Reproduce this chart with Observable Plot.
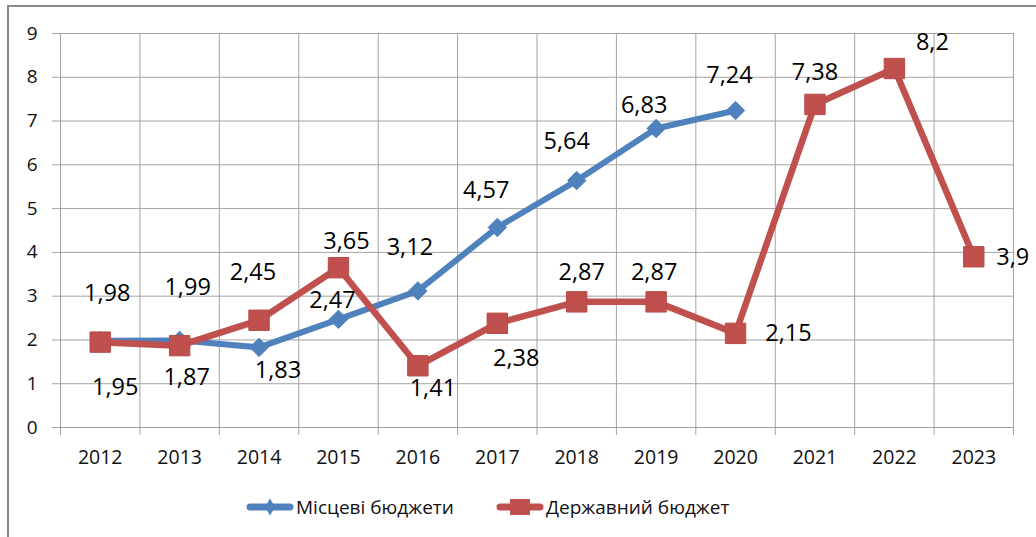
<!DOCTYPE html>
<html><head><meta charset="utf-8">
<script src="https://cdn.jsdelivr.net/npm/d3@7"></script>
<script src="https://cdn.jsdelivr.net/npm/@observablehq/plot@0.6"></script>
<style>
body{margin:0;background:#fff;font-family:"Open Sans",sans-serif;}
#frame{position:absolute;left:7px;top:5px;width:1100px;height:600px;border-top:2px solid #8a8a8a;border-left:2px solid #8a8a8a;}
#chart{position:absolute;left:0;top:0;}
#legend{position:absolute;top:494px;left:0;width:1036px;height:26px;font-size:19px;color:#111;}
.item{position:absolute;top:0;display:flex;align-items:center;height:26px;white-space:nowrap;}
.item svg{display:block;margin-right:2px;}
</style></head><body>
<div id="frame"></div><div id="chart"></div><div id="legend"></div>
<script>
// ---- data ----
const years = [2012, 2013, 2014, 2015, 2016, 2017, 2018, 2019, 2020, 2021, 2022, 2023];
const seriesNames = ["Місцеві бюджети", "Державний бюджет"];
const localBudget = [1.98, 1.99, 1.83, 2.47, 3.12, 4.57, 5.64, 6.83, 7.24]; // 2012-2020
const stateBudget = [1.95, 1.87, 2.45, 3.65, 1.41, 2.38, 2.87, 2.87, 2.15, 7.38, 8.2, 3.9];
const yTicks = [0, 1, 2, 3, 4, 5, 6, 7, 8, 9];

// label placement (pixel offsets from each point)
const localLabelDx = [7, 8, 19, -6, -8, -11, -10, -12, -6];
const localLabelDy = [-47, -53, 23, -19, -43, -37, -39, -23, -35];
const stateLabelDx = [15, 7, -6, 8, 15, 19, 5, -2, 53, 0, 38, 39];
const stateLabelDy = [45, 32, -48, -26, 23, 35, -29, -29, 0, -32, -26, 1];

const colors = ["#4F81BD", "#C0504D"];
const gridColor = "#a3a3a3";

const localData = localBudget.map((v, i) => ({year: years[i], value: v}));
const stateData = stateBudget.map((v, i) => ({year: years[i], value: v}));
const boundaries = years.map(y => y - 0.5).concat([years[years.length - 1] + 0.5]);
const fmt = v => String(v).replace(".", ",");

const labelMarks = (data, dxs, dys) => data.map((d, i) =>
  Plot.text([d], {x: "year", y: "value", text: d => fmt(d.value), dx: dxs[i], dy: dys[i],
    fontSize: 23.5, fill: "#000", textAnchor: "middle", lineAnchor: "middle"}));

const chart = Plot.plot({
  width: 1036, height: 480,
  marginLeft: 60, marginRight: 23, marginTop: 33, marginBottom: 53,
  style: {fontFamily: "'Open Sans', sans-serif", background: "transparent"},
  x: {domain: [years[0] - 0.5, years[years.length - 1] + 0.5], axis: null},
  y: {domain: [0, 9], axis: null},
  marks: [
    Plot.gridY({ticks: yTicks, stroke: gridColor, strokeOpacity: 1}),
    Plot.gridX({ticks: boundaries, stroke: gridColor, strokeOpacity: 1}),
    Plot.axisY({ticks: yTicks, tickSize: 8, tickPadding: 15, fontSize: 19, stroke: gridColor, fill: "#111", label: null}),
    Plot.axisX({ticks: boundaries, tickSize: 8, tickFormat: () => "", stroke: gridColor, label: null}),
    Plot.axisX({ticks: years, tickSize: 0, tickPadding: 23, tickFormat: d => String(d), fontSize: 19.5, fill: "#111", label: null}),
    Plot.line(localData, {x: "year", y: "value", stroke: colors[0], strokeWidth: 6, strokeLinejoin: "round"}),
    Plot.dot(localData, {x: "year", y: "value", symbol: "diamond2", r: 8.3, fill: colors[0], stroke: colors[0], strokeWidth: 1}),
    Plot.line(stateData, {x: "year", y: "value", stroke: colors[1], strokeWidth: 6.5, strokeLinejoin: "round"}),
    Plot.dot(stateData, {x: "year", y: "value", symbol: "square", r: 11.5, fill: colors[1], stroke: "#b84a47", strokeWidth: 1}),
    ...labelMarks(localData, localLabelDx, localLabelDy),
    ...labelMarks(stateData, stateLabelDx, stateLabelDy)
  ]
});
document.getElementById("chart").appendChild(chart);

// ---- legend ----
const legend = document.getElementById("legend");
const swatches = [
  `<svg width="48" height="26"><line x1="4" y1="13" x2="44" y2="13" stroke="${colors[0]}" stroke-width="7" stroke-linecap="round"/><path d="M24,4.5L29,13L24,21.5L19,13Z" fill="${colors[0]}"/></svg>`,
  `<svg width="48" height="26"><line x1="4" y1="13" x2="44" y2="13" stroke="${colors[1]}" stroke-width="7" stroke-linecap="round"/><rect x="14" y="5" width="20" height="16" fill="${colors[1]}"/></svg>`
];
const legendLeft = [246, 496];
seriesNames.forEach((name, i) => {
  const item = document.createElement("div");
  item.className = "item";
  item.style.left = legendLeft[i] + "px";
  item.innerHTML = swatches[i] + `<span>${name}</span>`;
  legend.appendChild(item);
});
</script>
</body></html>
